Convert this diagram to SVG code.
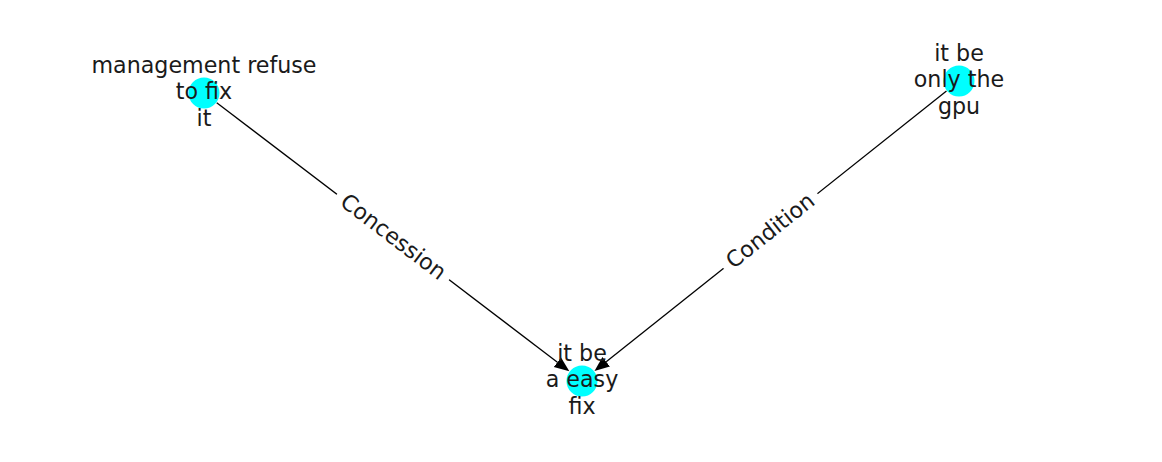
<svg xmlns="http://www.w3.org/2000/svg" width="1162" height="462" viewBox="0 0 1162 462">
<style>
.edge{stroke:#000;stroke-width:1.3;fill:none}
.node{fill:#00ffff}
.nl{font-family:"DejaVu Sans",sans-serif;font-size:22.2px;fill:#1a1a1a;text-anchor:middle;dominant-baseline:central}
.el{font-family:"DejaVu Sans",sans-serif;font-size:22.2px;fill:#1a1a1a;text-anchor:middle;dominant-baseline:central}
.lb{fill:#fff;stroke:#fff}
</style>
<defs>
<marker id="arr" markerUnits="userSpaceOnUse" markerWidth="16" markerHeight="14" viewBox="0 -7 16 14" refX="0" refY="0" orient="auto">
<path d="M0,-6 L15,0 L0,6 z" fill="#000"/>
</marker>
</defs>
<rect width="1162" height="462" fill="#fff"/>
<g id="connectors">
<line class="edge" x1="216.7" y1="102.7" x2="557.4" y2="362.2" marker-end="url(#arr)"/>
<line class="edge" x1="946.5" y1="91.0" x2="606.2" y2="361.7" marker-end="url(#arr)"/>
<g transform="translate(393,237) rotate(37.3)">
<rect class="lb" x="-70" y="-19.5" width="140" height="39" rx="6"/>
<text class="el" x="0" y="-1">Concession</text>
</g>
<g transform="translate(770.5,231) rotate(-38.5)">
<rect class="lb" x="-59.5" y="-19.5" width="119" height="39" rx="6"/>
<text class="el" x="0" y="-1">Condition</text>
</g>
</g>
<g id="node-management">
<circle class="node" cx="204" cy="93" r="15.5"/>
<text class="nl" x="204" y="64.5">management refuse</text>
<text class="nl" x="204" y="91">to fix</text>
<text class="nl" x="204" y="117.5">it</text>
</g>
<g id="node-gpu">
<circle class="node" cx="959" cy="81" r="15.5"/>
<text class="nl" x="959" y="52.5">it be</text>
<text class="nl" x="959" y="79">only the</text>
<text class="nl" x="959" y="105.5">gpu</text>
</g>
<g id="node-easyfix">
<circle class="node" cx="582" cy="381" r="15.5"/>
<text class="nl" x="582" y="352.5">it be</text>
<text class="nl" x="582" y="379">a easy</text>
<text class="nl" x="582" y="405.5">fix</text>
</g>
</svg>
